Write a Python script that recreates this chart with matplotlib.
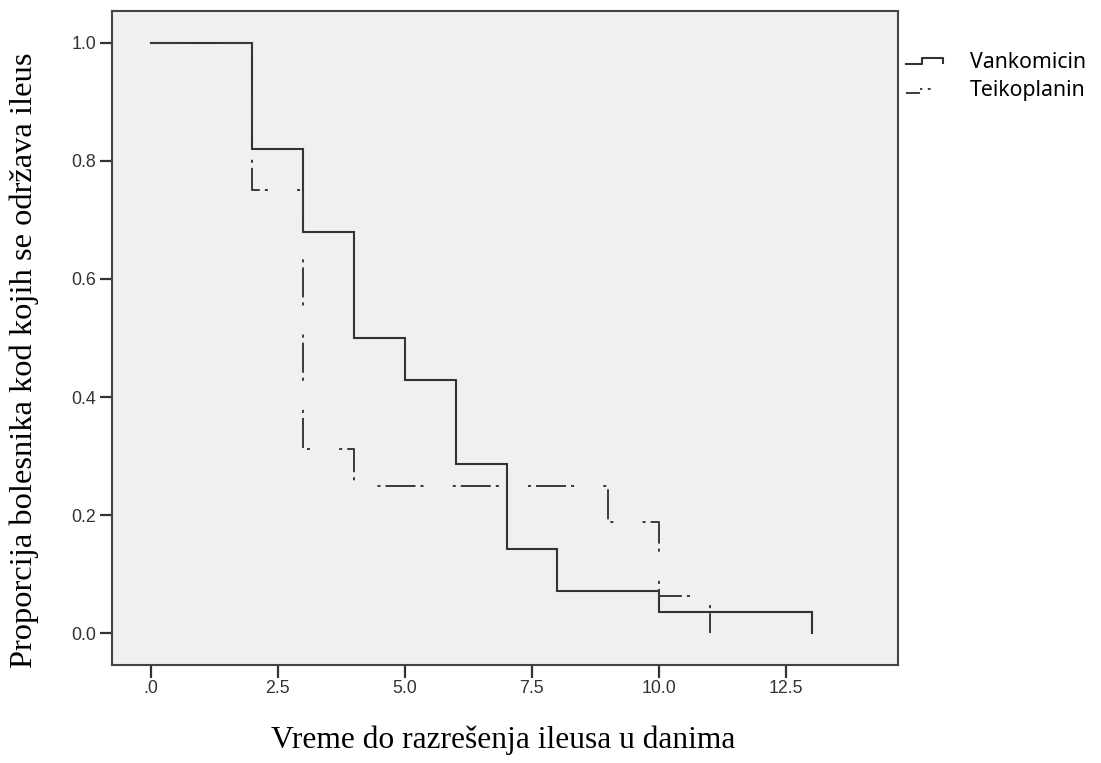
import matplotlib
matplotlib.use("Agg")
import matplotlib.pyplot as plt
from matplotlib.legend_handler import HandlerBase
from matplotlib.lines import Line2D

# ---- data (Kaplan-Meier estimates) ----
vank_time = [0, 2, 3, 4, 5, 6, 7, 8, 10, 13]
vank_surv = [1.0, 0.821, 0.679, 0.500, 0.429, 0.286, 0.143, 0.071, 0.036, 0.0]
teik_time = [0, 2, 3, 4, 9, 10, 11]
teik_surv = [1.0, 0.75, 0.3125, 0.25, 0.1875, 0.0625, 0.0]
series_names = ["Vankomicin", "Teikoplanin"]
xticks = [0, 2.5, 5.0, 7.5, 10.0, 12.5]
xtick_labels = [".0", "2.5", "5.0", "7.5", "10.0", "12.5"]
yticks = [0.0, 0.2, 0.4, 0.6, 0.8, 1.0]
ytick_labels = ["0.0", "0.2", "0.4", "0.6", "0.8", "1.0"]
xlabel = "Vreme do razrešenja ileusa u danima"
ylabel = "Proporcija bolesnika kod kojih se održava ileus"

plt.rcParams['lines.scale_dashes'] = False

W, H = 1101, 763
fig = plt.figure(figsize=(W / 100, H / 100), dpi=100)
ax = fig.add_axes([111.7 / W, 1 - 665 / H, (898 - 111.7) / W, (665 - 11) / H])
ax.set_facecolor('#f0f0f0')

line_col = '#333333'
teik_dash = (0, (21.6, 3.6, 2.2, 21.0, 2.2, 3.6))

ax.plot(vank_time, vank_surv, drawstyle='steps-post', color=line_col, lw=1.5,
        solid_joinstyle='miter', label=series_names[0])
ax.plot(teik_time, teik_surv, drawstyle='steps-post', color='#3a3a3a', lw=1.4,
        linestyle=teik_dash, label=series_names[1])

ax.set_xlim(-0.765, 14.70)
ax.set_ylim(-0.054, 1.054)
ax.set_xticks(xticks)
ax.set_xticklabels(xtick_labels)
ax.set_yticks(yticks)
ax.set_yticklabels(ytick_labels)

for s in ax.spines.values():
    s.set_color('#444444')
    s.set_linewidth(1.5)

ax.tick_params(axis='both', direction='out', length=9, width=1.6, color='#333333',
               labelcolor='#333333', pad=2)
for lab in ax.get_xticklabels() + ax.get_yticklabels():
    lab.set_fontfamily(['Liberation Sans', 'DejaVu Sans'])
    lab.set_fontsize(12.8)

fig.text(503 / W, 1 - 740 / H, xlabel, ha='center', va='center',
         family=['Liberation Serif', 'DejaVu Serif'], fontsize=22.7, color='black')
fig.text(24 / W, 1 - 360 / H, ylabel, ha='center', va='center', rotation=90,
         family=['Liberation Serif', 'DejaVu Serif'], fontsize=23.4, color='black')


class StepHandler(HandlerBase):
    def __init__(self, kind):
        super().__init__()
        self.kind = kind

    def create_artists(self, legend, orig_handle, xdescent, ydescent, width, height,
                       fontsize, trans):
        x0 = -xdescent
        y0 = -ydescent
        if self.kind == 'solid':
            xs = [x0, x0 + 0.42 * width, x0 + 0.42 * width, x0 + width, x0 + width]
            ys = [y0 + 0.25 * height, y0 + 0.25 * height, y0 + 0.65 * height,
                  y0 + 0.65 * height, y0 + 0.35 * height]
            ln = Line2D(xs, ys, color=line_col, lw=1.5, transform=trans)
        else:
            xs = [x0, x0 + 0.38 * width, x0 + 0.38 * width, x0 + width]
            ys = [y0 + 0.2 * height, y0 + 0.2 * height, y0 + 0.5 * height,
                  y0 + 0.5 * height]
            ln = Line2D(xs, ys, color='#3a3a3a', lw=1.4, transform=trans,
                        linestyle=(0, (10, 3, 1.6, 4, 2, 30)))
        return [ln]


handles = ax.get_lines()
leg = fig.legend(handles, series_names, loc='upper left',
                 bbox_to_anchor=(906 / W, 1 - 52 / H), frameon=False,
                 handler_map={handles[0]: StepHandler('solid'),
                              handles[1]: StepHandler('dash')},
                 prop={'family': ['Noto Sans', 'DejaVu Sans'], 'size': 15.3},
                 handlelength=1.75, handletextpad=1.25, borderpad=0, borderaxespad=0,
                 labelspacing=0.35)
for t in leg.get_texts():
    t.set_color('black')

fig.savefig('out.png', dpi=100)
